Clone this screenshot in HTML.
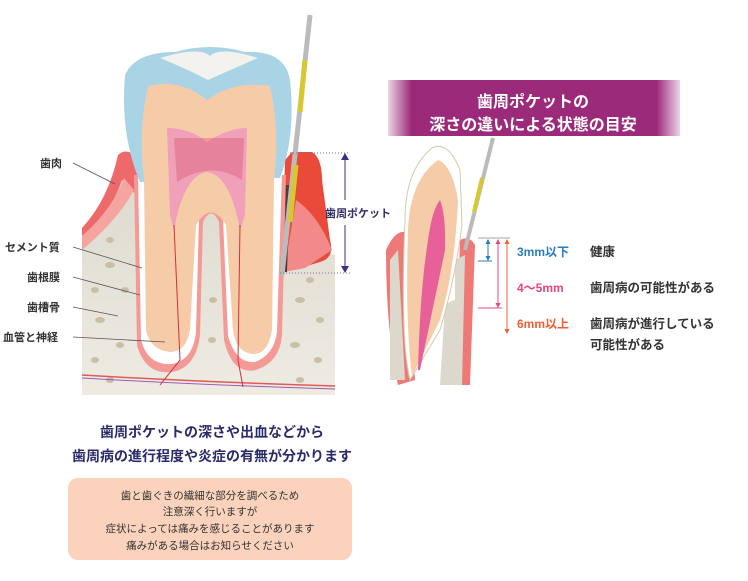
<!DOCTYPE html>
<html><head><meta charset="utf-8"><style>
body{margin:0;width:748px;height:581px;background:#fff;overflow:hidden;font-family:"Liberation Sans","Noto Sans CJK JP",sans-serif}
svg{position:absolute;left:0;top:0}
.t{font-family:"Liberation Sans","Noto Sans CJK JP",sans-serif}
</style></head><body>
<svg width="748" height="581" viewBox="0 0 748 581">
<defs>
<linearGradient id="ban" x1="0" x2="1"><stop offset="0" stop-color="#9c2a7a" stop-opacity="0.2"/><stop offset="0.08" stop-color="#9c2a7a"/><stop offset="0.92" stop-color="#9c2a7a"/><stop offset="1" stop-color="#9c2a7a" stop-opacity="0.2"/></linearGradient>
<linearGradient id="bone" x1="0" y1="0" x2="0" y2="1"><stop offset="0" stop-color="#dcd8cc"/><stop offset="1" stop-color="#eeebe3"/></linearGradient>
</defs>
<path d="M82 235 Q110 210 122 160 L140 165 L140 200 L278 200 L300 255 Q320 250 335 255 L335 395 L82 395Z" fill="url(#bone)"/>
<path d="M82 228 Q108 200 118 155 Q125 148 135 155 L140 170 L140 200 Q128 185 122 180 Q110 215 82 240Z" fill="#ee6a6a"/>
<path d="M82 236 Q112 210 124 178 L134 190 Q118 220 82 250Z" fill="#f5a5a0"/>
<g fill="#c9bfa8">
<ellipse cx="110" cy="265" rx="5" ry="3"/><ellipse cx="125" cy="290" rx="4" ry="3"/><ellipse cx="100" cy="320" rx="5" ry="3"/><ellipse cx="120" cy="345" rx="4" ry="3"/><ellipse cx="95" cy="360" rx="4" ry="3"/><ellipse cx="110" cy="240" rx="4" ry="3"/><ellipse cx="95" cy="290" rx="4" ry="3"/>
<ellipse cx="300" cy="300" rx="5" ry="3"/><ellipse cx="320" cy="320" rx="4" ry="3"/><ellipse cx="295" cy="345" rx="5" ry="3"/><ellipse cx="318" cy="360" rx="4" ry="3"/><ellipse cx="310" cy="280" rx="4" ry="3"/><ellipse cx="213" cy="300" rx="4" ry="3"/><ellipse cx="212" cy="340" rx="4" ry="3"/><ellipse cx="110" cy="380" rx="4" ry="3"/><ellipse cx="300" cy="380" rx="4" ry="3"/>
</g>
<path d="M82 375 Q200 382 335 386" stroke="#e05a5a" stroke-width="1.5" fill="none"/>
<path d="M82 378 Q200 385 335 389" stroke="#9a5ab0" stroke-width="1" fill="none"/>
<path d="M292 152 L312 152 Q322 158 322 180 L330 240 Q335 258 320 262 L300 268 L282 272 L285 160Z" fill="#ea4a3a"/>
<path d="M296 200 Q318 215 332 250 L305 268 L284 272Z" fill="#f28a8a"/>
<path d="M278 185 L290 185 L287 272 L278 272Z" fill="#5a3a30"/>
<path d="M134 175 L137 345 Q145 375 172 372 Q196 368 200 335 L203 222 Q211 205 219 222 L224 340 Q232 375 256 370 Q280 362 282 335 L286 175Z" fill="#f49a96"/>
<path d="M138 172 L141 340 Q148 366 172 364 Q193 360 196 332 L199 218 Q211 198 223 218 L228 336 Q236 364 255 362 Q274 355 277 332 L282 172Z" fill="#fff"/>
<path d="M125 75 Q135 52 175 52 Q210 42 245 52 Q285 50 290 80 Q296 135 280 178 L140 182 Q120 135 125 75Z" fill="#a9d4e6"/>
<path d="M160 58 Q200 46 210 56 Q220 46 258 58 Q235 68 208 80 Q185 68 160 58Z" fill="#f4f2ee"/>
<path d="M148 86 Q180 78 207 100 Q235 80 270 86 Q280 130 274 180 L272 330 Q268 355 252 354 Q236 352 233 330 L226 225 Q211 200 196 225 L190 330 Q186 352 170 352 Q150 350 146 330 L144 180 Q138 130 148 86Z" fill="#f6cca8"/>
<!-- pulp -->
<path d="M167 128 Q190 128 207 142 Q228 128 247 128 L245 215 L240 230 Q230 175 207 172 Q184 175 174 230 L170 215Z" fill="#f0a0b8"/>
<path d="M174 138 L244 138 L242 180 Q211 160 177 182Z" fill="#d84a6a" opacity="0.35"/>
<path d="M174 225 L180 360 L160 385" stroke="#d03040" fill="none"/>
<path d="M240 225 L238 360 L243 387" stroke="#d03040" fill="none"/>
<line x1="310" y1="15" x2="282" y2="275" stroke="#bbbbbb" stroke-width="5"/>
<line x1="305" y1="60" x2="300" y2="112" stroke="#d8c830" stroke-width="5"/>
<line x1="296" y1="165" x2="290" y2="222" stroke="#d8c830" stroke-width="5"/>
<line x1="290" y1="153" x2="350" y2="153" stroke="#7a6aa0" stroke-dasharray="1,2"/>
<line x1="280" y1="273" x2="350" y2="273" stroke="#7a6aa0" stroke-dasharray="1,2"/>
<line x1="345" y1="158" x2="345" y2="200" stroke="#3a3080"/><line x1="345" y1="225" x2="345" y2="268" stroke="#3a3080"/>
<path d="M341 160 L345 153 L349 160Z M341 266 L345 273 L349 266Z" fill="#3a3080"/>
<text x="325" y="217" font-size="11" fill="#2f2f6b" class="t" font-weight="bold">歯周ポケット</text>
<g stroke="#555" stroke-width="0.8">
<line x1="73" y1="163" x2="115" y2="184"/><line x1="73" y1="247" x2="142" y2="268"/><line x1="73" y1="277" x2="140" y2="295"/><line x1="73" y1="307" x2="118" y2="316"/><line x1="73" y1="337" x2="165" y2="342"/>
</g>
<g font-size="11" fill="#333" class="t" font-weight="bold">
<text x="40" y="167">歯肉</text><text x="5" y="251">セメント質</text><text x="27" y="281">歯根膜</text><text x="27" y="311">歯槽骨</text><text x="3" y="341">血管と神経</text>
</g>
<rect x="388" y="80" width="292" height="56" fill="url(#ban)"/>
<text x="533" y="107" font-size="16" fill="#fff" text-anchor="middle" class="t" font-weight="bold">歯周ポケットの</text>
<text x="533" y="130" font-size="16" fill="#fff" text-anchor="middle" class="t" font-weight="bold">深さの違いによる状態の目安</text>
<path d="M386 250 Q395 230 405 232 L415 380 L398 385 Q386 330 386 250Z" fill="#ee7a78"/>
<path d="M390 260 L398 250 L405 380 L390 380Z" fill="#dcd8cc"/>
<path d="M460 240 Q470 235 475 245 L470 385 L455 385Z" fill="#ee7a78"/>
<path d="M455 260 L465 255 L462 385 L440 385 L445 305 Q452 300 455 300Z" fill="#dcd8cc"/>
<path d="M432 148 Q448 140 460 170 L462 225 Q455 280 440 330 L410 380 Q400 340 405 220 Q405 170 432 148Z" fill="#fff" stroke="#d8c8a8"/>
<path d="M438 160 Q452 165 458 200 Q455 270 440 320 L412 376 Q405 320 408 230 Q410 180 438 160Z" fill="#f6cca8"/>
<path d="M440 200 Q446 215 445 250 L420 370 L418 370 Q420 290 428 240 Q432 210 440 200Z" fill="#e8609a"/>
<line x1="493" y1="138" x2="465" y2="250" stroke="#bbb" stroke-width="4"/>
<line x1="482" y1="178" x2="474" y2="212" stroke="#d8c830" stroke-width="4"/>
<line x1="478" y1="238" x2="510" y2="238" stroke="#888" stroke-width="0.7"/>
<line x1="478" y1="261" x2="492" y2="261" stroke="#2b7bbf"/><line x1="488" y1="240" x2="488" y2="259" stroke="#2b7bbf"/>
<path d="M485.5 244 L488 239 L490.5 244Z M485.5 256 L488 261 L490.5 256Z" fill="#2b7bbf"/>
<line x1="478" y1="308" x2="502" y2="308" stroke="#e8457f"/><line x1="498" y1="240" x2="498" y2="306" stroke="#e8457f"/>
<path d="M495.5 244 L498 239 L500.5 244Z M495.5 303 L498 308 L500.5 303Z" fill="#e8457f"/>
<line x1="507" y1="240" x2="507" y2="332" stroke="#f06030"/>
<path d="M504.5 244 L507 239 L509.5 244Z M504.5 329 L507 334 L509.5 329Z" fill="#f06030"/>
<text x="517" y="256" font-size="12" fill="#2b7bbf" class="t" font-weight="bold">3mm以下</text>
<text x="517" y="292" font-size="12" fill="#e8457f" class="t" font-weight="bold">4〜5mm</text>
<text x="517" y="328" font-size="12" fill="#f06030" class="t" font-weight="bold">6mm以上</text>
<g font-size="12.5" fill="#333" class="t" font-weight="bold">
<text x="590" y="256">健康</text><text x="590" y="292">歯周病の可能性がある</text><text x="590" y="328">歯周病が進行している</text><text x="590" y="349">可能性がある</text>
</g>
<text x="212" y="437" font-size="14" fill="#2a2a6a" text-anchor="middle" class="t" font-weight="bold">歯周ポケットの深さや出血などから</text>
<text x="212" y="461" font-size="14" fill="#2a2a6a" text-anchor="middle" class="t" font-weight="bold">歯周病の進行程度や炎症の有無が分かります</text>
<rect x="68" y="478" width="284" height="82" rx="10" fill="#fbd3bd"/>
<g font-size="10.5" fill="#333" text-anchor="middle" class="t">
<text x="210" y="499">歯と歯ぐきの繊細な部分を調べるため</text><text x="210" y="515">注意深く行いますが</text><text x="210" y="532">症状によっては痛みを感じることがあります</text><text x="210" y="549">痛みがある場合はお知らせください</text>
</g>
</svg>
</body></html>
